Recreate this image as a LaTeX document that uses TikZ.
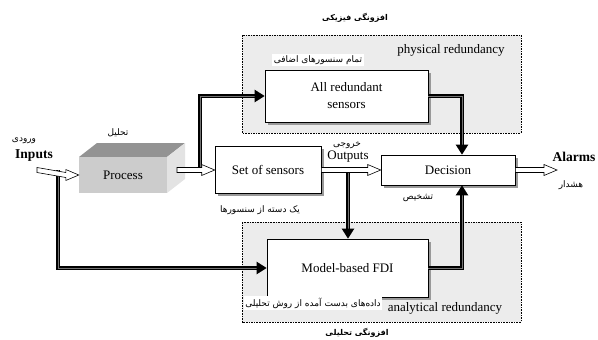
\documentclass[tikz,border=0pt]{standalone}
\usepackage{fontspec}
\setmainfont{Liberation Serif}
\newfontfamily\fa[Script=Arabic]{DejaVu Sans}
\TeXXeTstate=1
\usetikzlibrary{calc,arrows.meta,shadows}

% Persian label helpers
\newcommand\fatext[1]{{\fa\fontsize{9}{11}\selectfont\beginR #1\endR}}
\newcommand\fabold[1]{{\fa\bfseries\fontsize{8}{10}\selectfont\beginR #1\endR}}

% block-shaped hollow arrow between two points on one horizontal line
\newcommand\hollowarrow[2]{%
  \draw[hollow] ($#1+(0,2.5)$) -- ($#2+(-13,2.5)$) -- ($#2+(-13,5.5)$) -- #2
    -- ($#2+(-13,-5.5)$) -- ($#2+(-13,-2.5)$) -- ($#1+(0,-2.5)$) -- cycle;}

\tikzset{
  region/.style={fill=gray!15, draw=black, line width=0.6pt, dash pattern=on 1.6pt off 1pt},
  block/.style={draw=black, line width=0.6pt, fill=white, align=center,
    font=\fontsize{13}{15}\selectfont, inner sep=0pt,
    drop shadow={shadow xshift=2.5pt, shadow yshift=-2.5pt, fill=gray!80, opacity=1}},
  hollow/.style={draw=black, line width=0.6pt, fill=white},
  bigarrow/.style={draw=black, line width=2.1pt, double=black!55, double distance=0.5pt,
    -{Triangle[length=10pt,width=12pt]}},
  lbl/.style={font=\fontsize{13}{15}\selectfont, inner sep=0pt},
  boldlbl/.style={font=\bfseries\fontsize{13.5}{15}\selectfont, inner sep=0pt},
  falbl/.style={inner sep=0pt},
  fabox/.style={fill=white, inner sep=1.5pt},
}

\begin{document}
\begin{tikzpicture}[x=1pt,y=-1pt]
\useasboundingbox (0,0) rectangle (598,340);

% shaded redundancy regions
\path[region] (242,35) rectangle (521,133);
\path[region] (242,222) rectangle (521,322);

% process block drawn as a box in perspective
\fill[gray!85] (79,157) -- (97,143) -- (185,143) -- (167,157) -- cycle;
\fill[gray!22] (167,157) -- (185,143) -- (185,179) -- (167,193) -- cycle;
\node[fill=gray!40, minimum width=88pt, minimum height=36pt, inner sep=0pt,
      font=\fontsize{13}{15}\selectfont] (proc) at (123,175) {Process};

% blocks
\node[block, minimum width=163pt, minimum height=52pt] (allred) at (346.5,96) {All redundant\\[2pt]sensors};
\node[block, minimum width=106pt, minimum height=47pt] (sos) at (268,170) {Set of sensors};
\node[block, minimum width=134pt, minimum height=30pt] (dec) at (448,170) {Decision};
\node[block, minimum width=161pt, minimum height=58pt] (fdi) at (347.5,268) {Model-based FDI};

% labels on white backgrounds
\node[fabox] (lblall) at (318,60) {\fatext{تمام سنسورهای اضافی}};
\node[fabox] (lblfdi) at (313,303) {\fatext{داده‌های بدست آمده از روش تحلیلی}};

% helper points
\coordinate (in0) at (37,170);
\coordinate (procR) at (177,170);
\coordinate (alarmEnd) at (557,170);
\coordinate (tapA) at (200,170);
\coordinate (tapB) at (58,170);
\coordinate (tapC) at (348,170);
\coordinate (vx) at (462,0);

% thick signal arrows
\draw[bigarrow] (tapB) |- (fdi.west);
\draw[bigarrow] (tapA) |- (allred.west);
\draw[bigarrow] (tapC) -- (fdi.north -| tapC);
\draw[bigarrow] (allred.east) -| (dec.north -| vx);
\draw[bigarrow] (fdi.east) -| (dec.south -| vx);

% hollow flow arrows
\hollowarrow{(in0)}{(proc.west)}
\hollowarrow{(procR)}{(sos.west)}
\hollowarrow{(sos.east)}{(dec.west)}
\hollowarrow{(dec.east)}{(alarmEnd)}

% text labels
\node[falbl] (tphys) at (355,18) {\fabold{افزونگی فیزیکی}};
\node[lbl] (phys) at (451,50) {physical redundancy};
\node[falbl] (tin) at (24,141) {\fatext{ورودی}};
\node[boldlbl] (inputs) at (34,156) {Inputs};
\node[falbl] (tproc) at (118,133) {\fatext{تحلیل}};
\node[falbl] (tout) at (347,145) {\fatext{خروجی}};
\node[lbl] (outputs) at (348,157) {Outputs};
\node[falbl] (tsos) at (260,210) {\fatext{یک دسته از سنسورها}};
\node[falbl] (tdec) at (418,198) {\fatext{تشخیص}};
\node[boldlbl] (alarms) at (574,157) {Alarms};
\node[falbl] (talarm) at (571,185) {\fatext{هشدار}};
\node[lbl] (anal) at (445,308) {analytical redundancy};
\node[falbl] (tanal) at (357,333) {\fabold{افزونگی تحلیلی}};
\end{tikzpicture}
\end{document}
